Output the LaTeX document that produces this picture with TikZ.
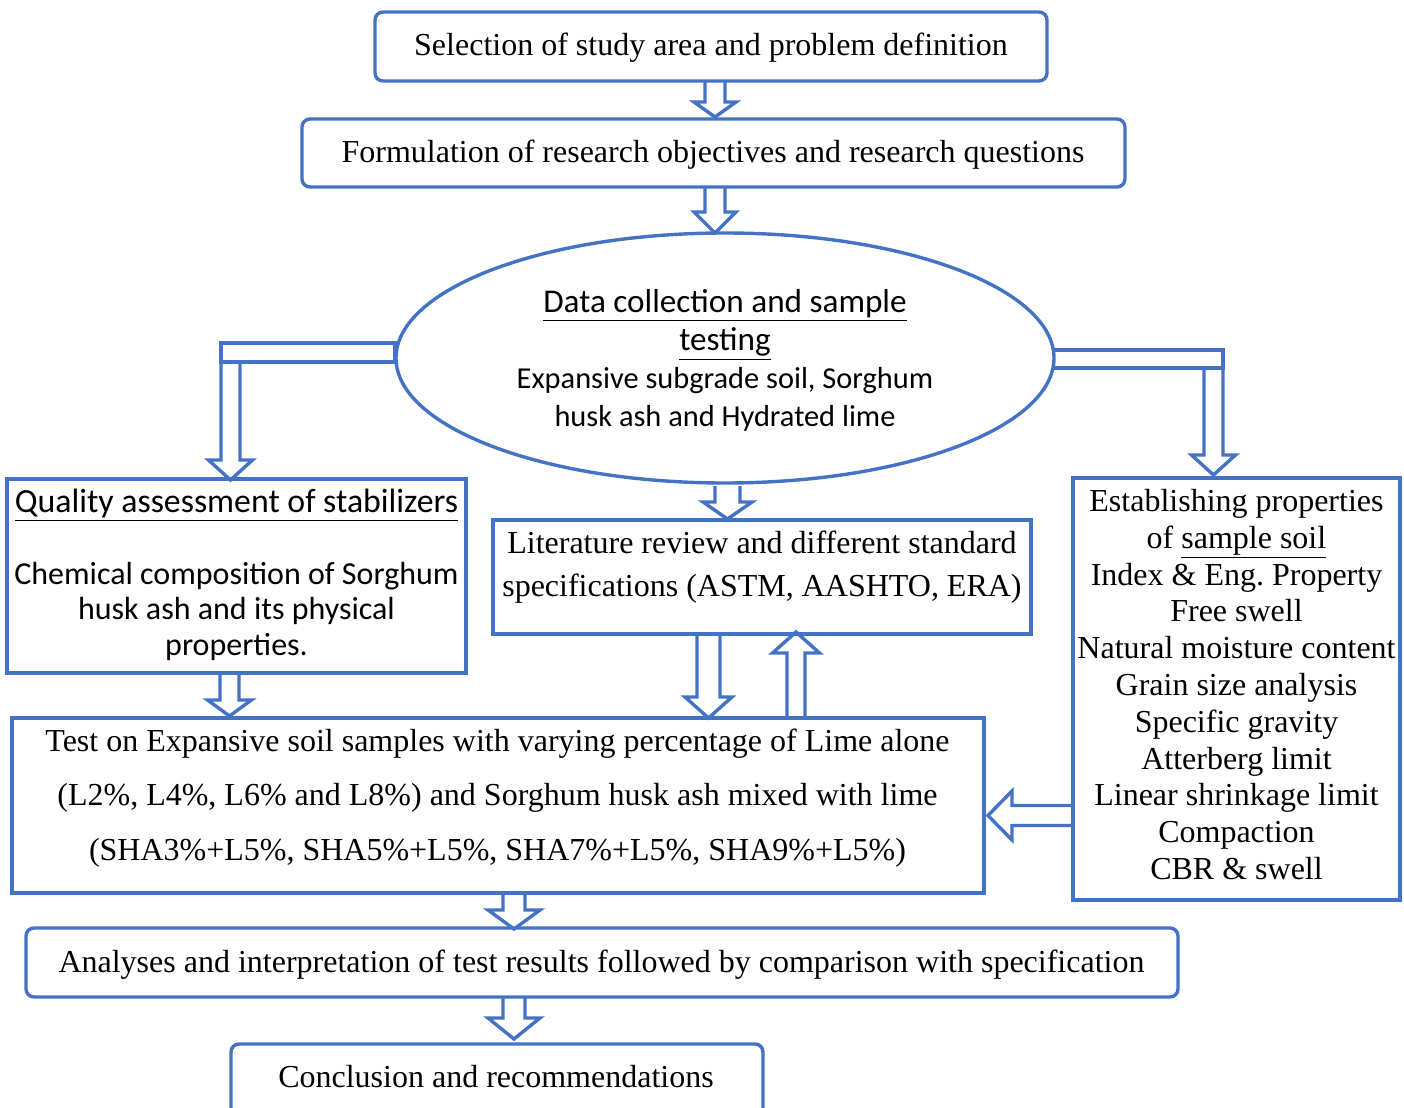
\documentclass[tikz,border=0pt]{standalone}
\usepackage{fontspec}
\setmainfont{Liberation Serif}
\newfontfamily\calib{Carlito}
\usetikzlibrary{shapes.geometric}
\definecolor{bblue}{RGB}{68,114,196}
\newcommand\vblk[6]{\draw[blk] (#1-#5,#2) -- (#1-#5,#3) -- (#1-#6,#3) -- (#1,#4) -- (#1+#6,#3) -- (#1+#5,#3) -- (#1+#5,#2);}
\begin{document}
\begin{tikzpicture}[x=0.5pt,y=-0.5pt,
  rbox/.style={draw=bblue, line width=1.7pt, rounded corners=4pt, inner sep=0pt},
  sbox/.style={draw=bblue, line width=1.7pt, inner sep=0pt},
  blk/.style={draw=bblue, line width=1.7pt, fill=white, line join=miter},
  txt/.style={font=\fontsize{16}{18}\selectfont, inner sep=0pt, align=center}
]
\useasboundingbox (0,0) rectangle (1404,1108);

% ---- block arrows (drawn first, boxes on top) ----
\vblk{715}{80}{102}{117}{10}{21}
\vblk{715}{187}{212}{233}{10}{21}
% left elbow
\vblk{230.5}{360}{460}{480}{9.5}{22}
\draw[blk] (221,343) rectangle (395,362);
% right elbow
\vblk{1213.5}{366}{455}{475}{9.5}{22}
\draw[blk] (1050,350) rectangle (1223,368);
% ellipse -> literature
\vblk{727.5}{486}{502}{519}{12.5}{24.5}
% literature -> test (down) and test -> literature (up)
\vblk{708.5}{634}{697}{718}{11.5}{23.5}
\vblk{796}{718}{653}{632}{9}{23.5}
% quality -> test
\vblk{229.5}{673}{700}{716}{9.5}{22}
% establishing -> test (left)
\draw[blk] (1072,805.5) -- (1012,805.5) -- (1012,791) -- (988,815.5) -- (1012,840) -- (1012,825.5) -- (1072,825.5);
% test -> analyses, analyses -> conclusion
\vblk{514}{893}{910}{929}{11}{26}
\vblk{514}{997}{1018}{1039}{11}{26}

% ---- boxes ----
\node[rbox, minimum width=336pt, minimum height=34.5pt] (b1) at (711,46.5) {};
\node[txt] (b1t) at (711,48) {Selection of study area and problem definition};
\node[rbox, minimum width=411.5pt, minimum height=34pt] (b2) at (713.5,153) {};
\node[txt] (b2t) at (713,154.5) {Formulation of research objectives and research questions};

\node[ellipse, draw=bblue, line width=1.7pt, fill=white, inner sep=0pt,
  minimum width=329pt, minimum height=125pt] (ell) at (725,358) {};
\node[inner sep=0pt, align=center, font=\calib\fontsize{16.6}{19}\selectfont] (ellt) at (725,360.5)
  {\underline{Data collection and sample}\\ \underline{testing}\\
   {\fontsize{15.2}{19}\selectfont Expansive subgrade soil, Sorghum}\\
   {\fontsize{15.2}{19}\selectfont husk ash and Hydrated lime}};

\node[sbox, minimum width=229.5pt, minimum height=97pt] (qual) at (236.5,576) {};
\node[inner sep=0pt, align=center, font=\calib\fontsize{16}{17.9}\selectfont] (qualt) at (236.5,575)
  {{\fontsize{16.9}{17.9}\selectfont\underline{Quality assessment of stabilizers}}\\[17.9pt]
   Chemical composition of Sorghum\\ husk ash and its physical\\ properties.};

\node[sbox, minimum width=269pt, minimum height=57pt] (lit) at (762,577) {};
\node[txt, font=\fontsize{16}{21.5}\selectfont] (litt) at (762,567)
  {Literature review and different standard\\ specifications (ASTM, AASHTO, ERA)};

\node[sbox, minimum width=163.5pt, minimum height=211pt] (est) at (1236.5,689) {};
\node[txt, font=\fontsize{16}{18.4}\selectfont] (estt) at (1236.5,684.5)
  {Establishing properties\\ of \underline{sample soil}\\ Index \& Eng.\ Property\\ Free swell\\
   Natural moisture content\\ Grain size analysis\\ Specific gravity\\ Atterberg limit\\
   Linear shrinkage limit\\ Compaction\\ CBR \& swell};

\node[sbox, minimum width=486pt, minimum height=87.5pt] (test) at (498,805.5) {};
\node[txt, font=\fontsize{16}{27.25}\selectfont] (testt) at (497.5,798)
  {Test on Expansive soil samples with varying percentage of Lime alone\\
   (L2\%, L4\%, L6\% and L8\%) and Sorghum husk ash mixed with lime\\
   (SHA3\%+L5\%, SHA5\%+L5\%, SHA7\%+L5\%, SHA9\%+L5\%)};

\node[rbox, minimum width=576pt, minimum height=34.5pt] (ana) at (602,962.5) {};
\node[txt] (anat) at (601.5,964.5)
  {Analyses and interpretation of test results followed by comparison with specification};

\node[rbox, minimum width=266pt, minimum height=40.5pt] (conc) at (497,1084.5) {};
\node[txt] (conct) at (496,1077) {Conclusion and recommendations};
\end{tikzpicture}
\end{document}
